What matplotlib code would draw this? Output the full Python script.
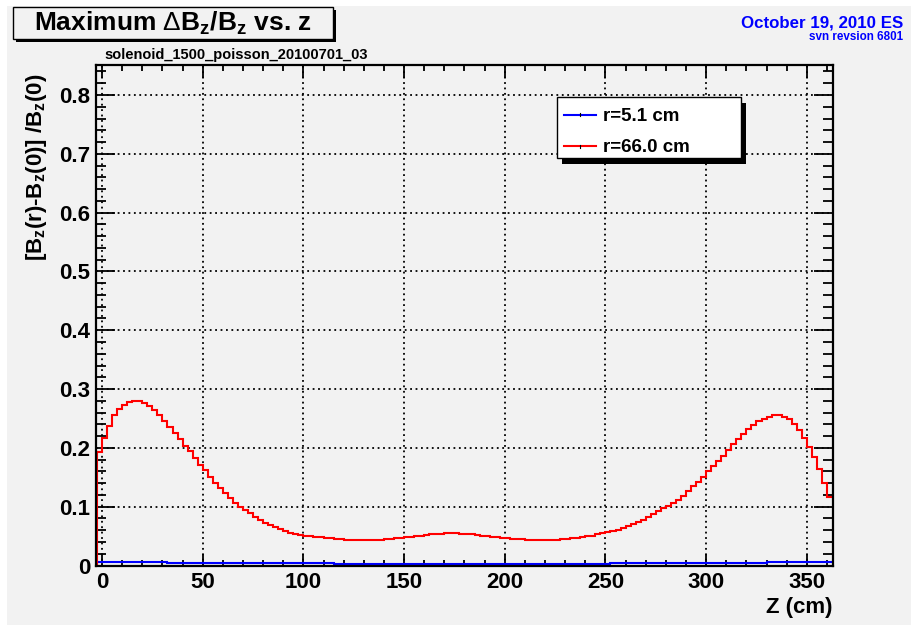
import numpy as np
import matplotlib
matplotlib.use("Agg")
import matplotlib.pyplot as plt
from matplotlib.ticker import MultipleLocator, FuncFormatter
from matplotlib.patches import Rectangle
from matplotlib.lines import Line2D

plt.rcParams['font.family'] = ['Liberation Sans', 'DejaVu Sans']
plt.rcParams['mathtext.fontset'] = 'custom'
plt.rcParams['mathtext.rm'] = 'Liberation Sans'
plt.rcParams['mathtext.bf'] = 'Liberation Sans:bold'
plt.rcParams['mathtext.it'] = 'Liberation Sans:bold'
plt.rcParams['mathtext.sf'] = 'Liberation Sans:bold'
plt.rcParams['mathtext.default'] = 'bf'

# ---------------- data ----------------
title = r"Maximum $\mathrm{\Delta}$B$_{z}$/B$_{z}$ vs. z"
subtitle = "solenoid_1500_poisson_20100701_03"
date_text = "October 19, 2010 ES"
svn_text = "svn revsion 6801"
x_label = "Z (cm)"
y_label = r"[B$_{z}$(r)-B$_{z}$(0)] /B$_{z}$(0)"
series_labels = ["r=5.1 cm", "r=66.0 cm"]
series_colors = ["#0000ff", "#ff0000"]

bin_width = 2.5
first_edge = -2.5
n_bins = 146

# r = 66.0 cm
red_vals = [
    0.193, 0.217, 0.237, 0.256, 0.266, 0.273, 0.278, 0.280, 0.280, 0.277,
    0.272, 0.265, 0.256, 0.246, 0.236, 0.226, 0.215, 0.203, 0.194, 0.182,
    0.171, 0.162, 0.151, 0.140, 0.131, 0.123, 0.114, 0.107, 0.100, 0.094,
    0.089, 0.083, 0.077, 0.073, 0.069, 0.065, 0.062, 0.059,
    0.056, 0.054, 0.052, 0.051, 0.050, 0.049, 0.048, 0.047, 0.046, 0.045,
    0.0445, 0.044, 0.0435, 0.043, 0.043, 0.043, 0.043, 0.0435, 0.044, 0.0445,
    0.045, 0.046, 0.047, 0.048, 0.049, 0.050, 0.051, 0.052, 0.053, 0.0535,
    0.054, 0.0545, 0.0548, 0.0545, 0.054, 0.0535, 0.053, 0.052, 0.051, 0.050,
    0.049, 0.048, 0.047, 0.046, 0.0455, 0.045, 0.0445, 0.044, 0.0437, 0.0435,
    0.0434, 0.0434, 0.0435, 0.044, 0.0445, 0.045, 0.046, 0.047, 0.048, 0.050,
    0.051, 0.053, 0.055, 0.057, 0.059, 0.061, 0.064, 0.067, 0.070, 0.074,
    0.078, 0.082, 0.087, 0.092, 0.097, 0.102, 0.107, 0.112,
    0.118, 0.127, 0.135, 0.142, 0.150, 0.160, 0.169, 0.178, 0.187, 0.196,
    0.207, 0.215, 0.224, 0.232, 0.239, 0.245, 0.249, 0.253, 0.2555, 0.2555,
    0.253, 0.249, 0.240, 0.2305, 0.216, 0.201, 0.185, 0.164, 0.141, 0.116,
]

# r = 5.1 cm
blue_vals = [
    0.0065, 0.0064, 0.0063, 0.0062, 0.0061, 0.0060, 0.0059, 0.0058, 0.0057, 0.0056,
    0.0055, 0.0054, 0.0053, 0.0052, 0.0051, 0.0050, 0.0050, 0.0049, 0.0049, 0.0048,
    0.0048, 0.0047, 0.0047, 0.0046, 0.0046, 0.0045, 0.0045, 0.0044, 0.0044, 0.0043,
    0.0043, 0.0042, 0.0042, 0.0041, 0.0041, 0.0040, 0.0040, 0.0039, 0.0039, 0.0038,
    0.0038, 0.0037, 0.0037, 0.0036, 0.0036, 0.0035, 0.0035, 0.0034, 0.0034, 0.0033,
    0.0033, 0.0032, 0.0032, 0.0031, 0.0031, 0.0030, 0.0030, 0.0030, 0.0030, 0.0030,
    0.0030, 0.0030, 0.0030, 0.0030, 0.0030, 0.0030, 0.0030, 0.0030, 0.0030, 0.0030,
    0.0030, 0.0030, 0.0030, 0.0030, 0.0030, 0.0030, 0.0030, 0.0030, 0.0030, 0.0030,
    0.0030, 0.0030, 0.0030, 0.0030, 0.0030, 0.0030, 0.0030, 0.0030, 0.0030, 0.0030,
    0.0030, 0.0030, 0.0030, 0.0030, 0.0031, 0.0031, 0.0032, 0.0032, 0.0033, 0.0033,
    0.0034, 0.0034, 0.0035, 0.0035, 0.0036, 0.0036, 0.0037, 0.0037, 0.0038, 0.0038,
    0.0039, 0.0039, 0.0040, 0.0040, 0.0041, 0.0041, 0.0042, 0.0042, 0.0043, 0.0043,
    0.0044, 0.0044, 0.0045, 0.0045, 0.0046, 0.0046, 0.0047, 0.0047, 0.0048, 0.0048,
    0.0049, 0.0050, 0.0051, 0.0052, 0.0053, 0.0054, 0.0055, 0.0056, 0.0057, 0.0058,
    0.0059, 0.0060, 0.0061, 0.0062, 0.0063, 0.0065,
]

x_limits = (-3.0, 363.0)
y_limits = (0.0, 0.851)

# ---------------- figure ----------------
W, H = 912, 625
BG = "#f2f2f2"
fig = plt.figure(figsize=(W / 100, H / 100), dpi=100, facecolor="white")


def fx(x):
    return x / W


def fy(y):
    return 1 - y / H


# canvas
fig.patches.append(Rectangle((fx(7), 0), 1 - fx(7), fy(6), transform=fig.transFigure,
                             facecolor=BG, edgecolor="none", zorder=-10))

ax = fig.add_axes([fx(96), fy(565.5), (833 - 96) / W, (565.5 - 65) / H])
ax.set_facecolor(BG)

edges = first_edge + bin_width * np.arange(n_bins + 1)
for vals, col in zip([blue_vals, red_vals], series_colors):
    ax.stairs(vals, edges, baseline=None, color=col, lw=1.5, zorder=3)
    ax.plot([edges[0], edges[0]], [0, vals[0]], color=col, lw=1.5, zorder=3)

ax.set_xlim(*x_limits)
ax.set_ylim(*y_limits)

ax.xaxis.set_major_locator(MultipleLocator(50))
ax.xaxis.set_minor_locator(MultipleLocator(10))
ax.yaxis.set_major_locator(MultipleLocator(0.1))
ax.yaxis.set_minor_locator(MultipleLocator(0.02))
ax.yaxis.set_major_formatter(FuncFormatter(lambda v, p: "0" if abs(v) < 1e-9 else f"{v:.1f}"))
ax.xaxis.set_major_formatter(FuncFormatter(lambda v, p: f"{v:.0f}"))

ax.grid(which="major", color="black", linestyle=(0, (1, 2)), linewidth=1.3)
ax.set_axisbelow(False)

ax.tick_params(which="both", direction="in", top=True, right=True, color="black",
               width=1.3)
ax.tick_params(axis="x", which="major", length=9, pad=5, labelsize=16)
ax.tick_params(axis="x", which="minor", length=4.5)
ax.tick_params(axis="y", which="major", length=14, pad=4, labelsize=16)
ax.tick_params(axis="y", which="minor", length=7)
for lab in ax.get_xticklabels() + ax.get_yticklabels():
    lab.set_fontweight("bold")

for sp in ax.spines.values():
    sp.set_linewidth(1.6)
    sp.set_color("black")
    sp.set_zorder(5)

# axis titles
fig.text(fx(833), fy(613.5), x_label, ha="right", va="baseline", fontsize=16,
         fontweight="bold")
fig.text(fx(37), fy(74), y_label, ha="center", va="top", rotation=90, fontsize=16,
         fontweight="bold")

# title box with shadow
tb_l, tb_r, tb_t, tb_b = 13, 333, 7, 39
fig.patches.append(Rectangle((fx(tb_l + 3), fy(tb_b + 3)), (tb_r - tb_l) / W, (tb_b - tb_t) / H,
                             transform=fig.transFigure, facecolor="black", edgecolor="none", zorder=1))
fig.patches.append(Rectangle((fx(tb_l), fy(tb_b)), (tb_r - tb_l) / W, (tb_b - tb_t) / H,
                             transform=fig.transFigure, facecolor=BG, edgecolor="black", lw=1.0, zorder=2))
fig.text(fx((tb_l + tb_r) / 2), fy(30.5), title, ha="center", va="baseline", fontsize=19,
         fontweight="bold", zorder=3)

fig.text(fx(104), fy(59), subtitle, ha="left", va="baseline", fontsize=10.5, fontweight="bold")

fig.text(fx(903), fy(28), date_text, ha="right", va="baseline", fontsize=12.2,
         fontweight="bold", color="#0000ff")
fig.text(fx(903), fy(40.5), svn_text, ha="right", va="baseline", fontsize=8.4,
         fontweight="bold", color="#0000ff")

# legend box with shadow
lg_l, lg_r, lg_t, lg_b = 557, 741, 97, 158
fig.patches.append(Rectangle((fx(lg_l + 5), fy(lg_b + 6)), (lg_r - lg_l) / W, (lg_b - lg_t) / H,
                             transform=fig.transFigure, facecolor="black", edgecolor="none", zorder=6))
fig.patches.append(Rectangle((fx(lg_l), fy(lg_b)), (lg_r - lg_l) / W, (lg_b - lg_t) / H,
                             transform=fig.transFigure, facecolor="white", edgecolor="black", lw=1.0, zorder=7))
for i, (lab, col) in enumerate(zip(series_labels, series_colors)):
    yy = 114.5 + i * 31.5
    fig.add_artist(Line2D([fx(564), fx(596)], [fy(yy), fy(yy)], color=col, lw=1.5,
                          transform=fig.transFigure, zorder=8))
    fig.add_artist(Line2D([fx(580), fx(580)], [fy(yy - 1.5), fy(yy + 1.5)], color="black", lw=0.8,
                          transform=fig.transFigure, zorder=8))
    fig.text(fx(603), fy(yy), lab, ha="left", va="center_baseline", fontsize=13.5,
             fontweight="bold", zorder=9)

fig.savefig("out.png", dpi=100, facecolor=fig.get_facecolor())
